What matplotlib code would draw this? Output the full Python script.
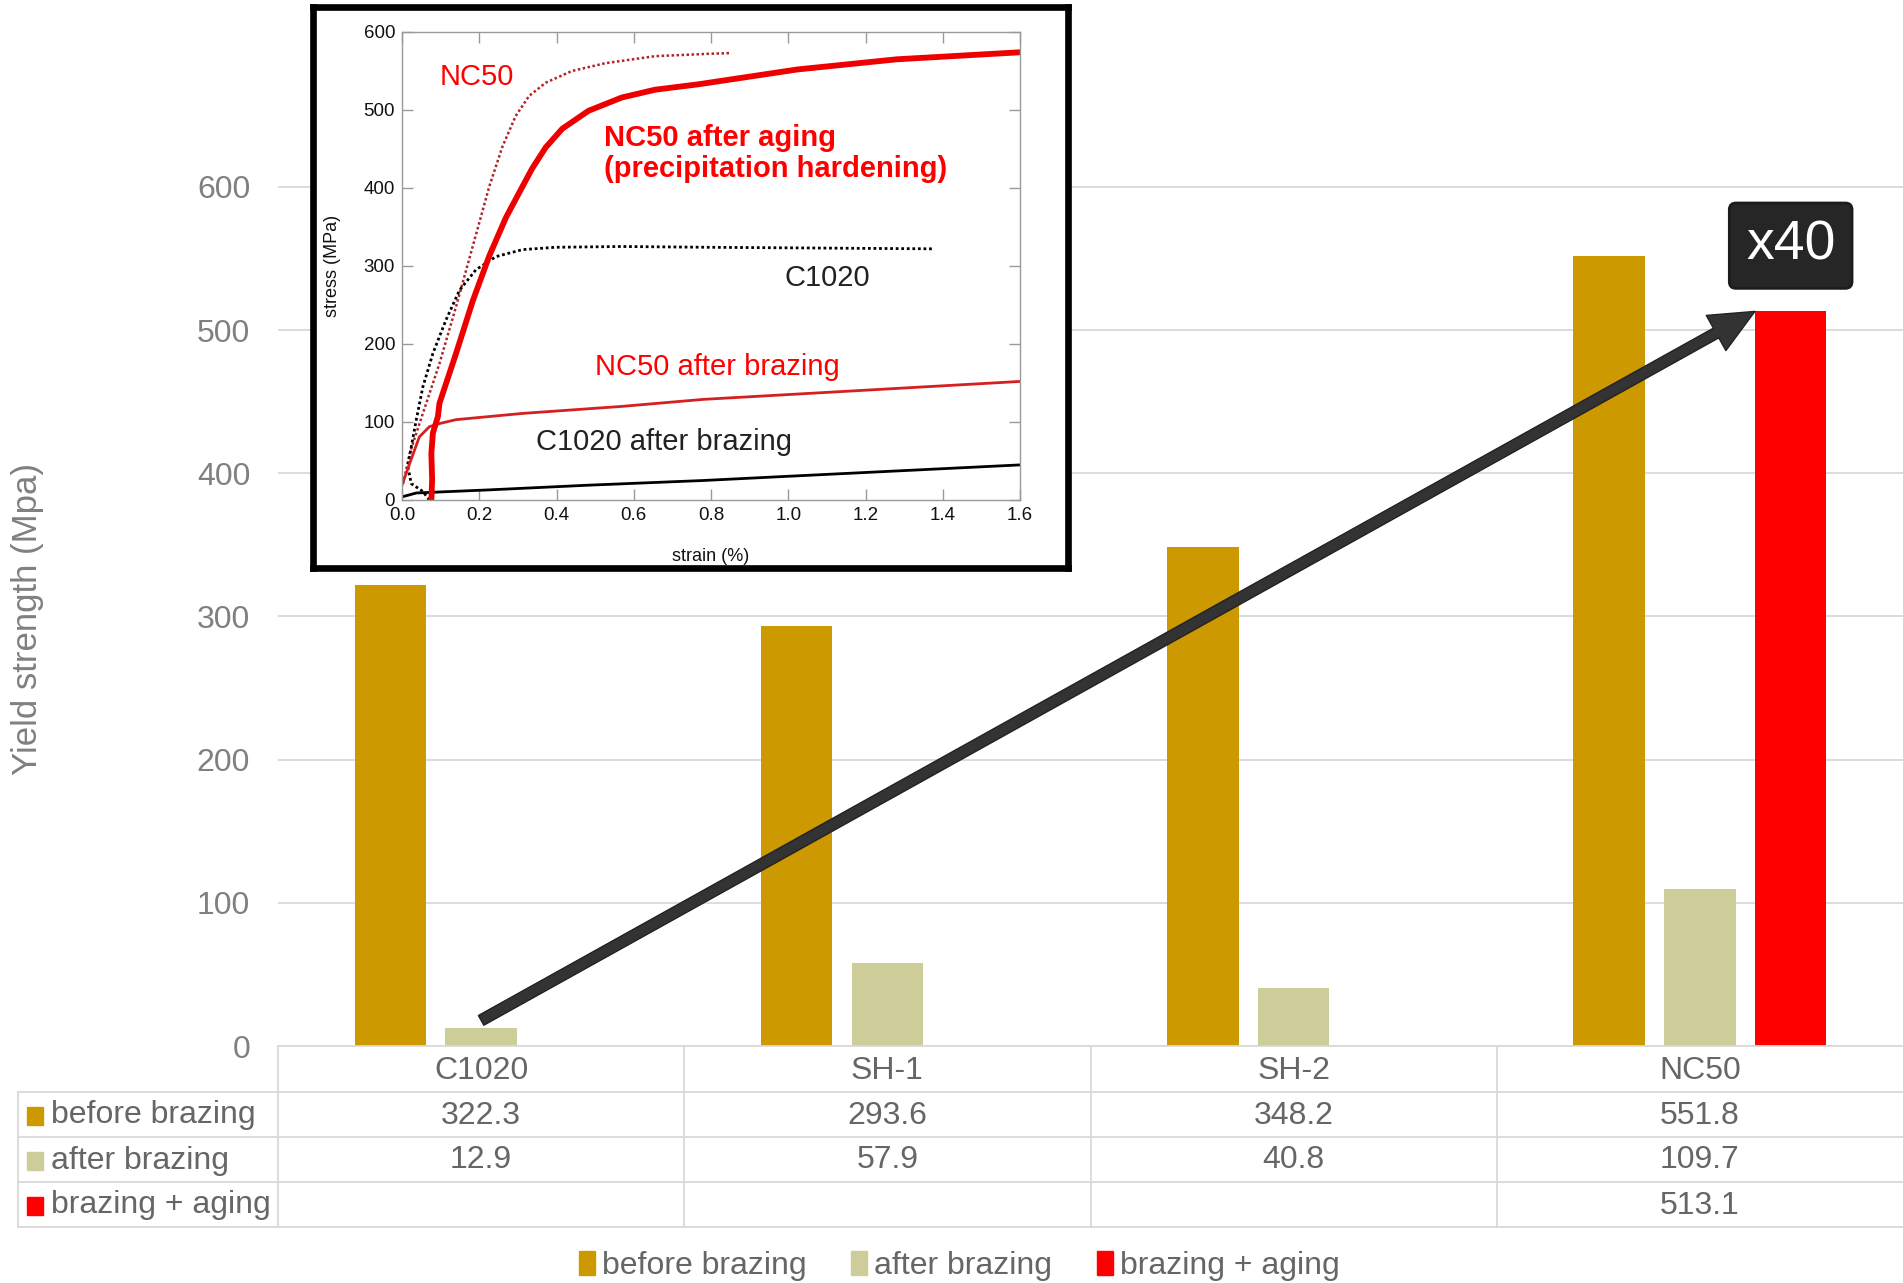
import numpy as np
import matplotlib
matplotlib.use("Agg")
import matplotlib.pyplot as plt
from matplotlib.patches import Rectangle, Patch
from matplotlib.lines import Line2D
from matplotlib.transforms import blended_transform_factory

plt.rcParams['font.family'] = ['Liberation Sans', 'DejaVu Sans']
NARROW = ['Liberation Sans Narrow', 'Liberation Sans', 'DejaVu Sans']

# yield strength per alloy (MPa)
alloys = ['C1020', 'SH-1', 'SH-2', 'NC50']
before_brazing = [322.3, 293.6, 348.2, 551.8]
after_brazing = [12.9, 57.9, 40.8, 109.7]
brazing_aging = [np.nan, np.nan, np.nan, 513.1]
series_names = ['before brazing', 'after brazing', 'brazing + aging']
series_colors = ['#CC9900', '#CDCD9A', '#FF0000']

# stress-strain curves (strain %, stress MPa)
nc50_strain = [0.003, 0.02, 0.054, 0.097, 0.14, 0.183, 0.226, 0.26, 0.294, 0.329, 0.372, 0.44,
               0.526, 0.655, 0.792, 0.852]
nc50_stress = [21, 60, 111, 175, 248, 325, 402, 453, 492, 518, 535, 550, 560, 569, 572, 573]
aged_strain = [0.076, 0.078, 0.076, 0.080, 0.093, 0.097, 0.14, 0.183, 0.226, 0.269, 0.312, 0.337,
               0.372, 0.415, 0.483, 0.569, 0.655, 0.768, 1.024, 1.281, 1.6]
aged_stress = [0, 26, 60, 86, 107, 124, 188, 255, 313, 362, 402, 425,
               452, 476, 499, 516, 526, 533, 552, 565, 574]
c1020_strain = [0.071, 0.054, 0.024, 0.015, 0.024, 0.037, 0.054, 0.08, 0.114, 0.149, 0.191, 0.243,
                0.312, 0.397, 0.569, 0.792, 1.376]
c1020_stress = [0, 11, 21, 43, 68, 103, 145, 188, 231, 269, 295, 312, 321, 324, 325, 324, 322]
nc50_brz_strain = [0.0, 0.02, 0.045, 0.071, 0.097, 0.14, 0.312, 0.569, 0.78, 1.6]
nc50_brz_stress = [19, 47, 81, 94, 98, 103, 111, 120, 129, 152]
c1020_brz_strain = [0.0, 0.037, 0.226, 0.483, 0.78, 0.983, 1.6]
c1020_brz_stress = [4, 9, 13, 19, 25, 30, 45]

W, H = 1903, 1283
def fx(px):
    return px / W
def fy(px):
    return 1 - px / H

fig = plt.figure(figsize=(W / 100, H / 100), dpi=100)
ax = fig.add_axes([fx(278), fy(1046), fx(1903) - fx(278), 1046 / H])

x = np.arange(len(alloys))
w = 0.176
off = 0.2235
ax.bar(x - off, before_brazing, w, color=series_colors[0], zorder=2)
ax.bar(x, after_brazing, w, color=series_colors[1], zorder=2)
aging = np.array(brazing_aging)
has = ~np.isnan(aging)
ax.bar(x[has] + off, aging[has], w, color=series_colors[2], zorder=2)

ax.set_xlim(-0.5, 3.5)
ax.set_ylim(0, 730.6)
ax.set_yticks(range(0, 601, 100))
ax.set_xticks([])
ax.tick_params(axis='y', length=0, pad=20, labelsize=23, labelcolor='#808080')
ax.grid(axis='y', color='#D9D9D9', lw=1.3, zorder=0)
for s in ['left', 'right', 'top']:
    ax.spines[s].set_visible(False)
ax.spines['bottom'].set_color('#D9D9D9')
ax.spines['bottom'].set_linewidth(1.3)

fig.text(fx(28), fy(619), 'Yield strength (Mpa)', rotation=90, fontsize=25,
         color='#808080', ha='center', va='center')

# arrow from C1020 after brazing up to the aged NC50 bar
ax.annotate('', xy=(x[3] + off - w / 2, brazing_aging[3]), xytext=(x[0], after_brazing[0] + 5),
            arrowprops=dict(arrowstyle='simple,head_length=1.6,head_width=1.45,tail_width=0.4',
                            mutation_scale=20, fc='#333333', ec='#222222', lw=1,
                            shrinkA=0, shrinkB=0), zorder=5)
ax.text(x[3] + off, 559, 'x40', color='white', fontsize=40, ha='center', va='center', zorder=6,
        bbox=dict(boxstyle='round,pad=0.3,rounding_size=0.12', fc='#262626', ec='#1c1c1c', lw=2))

# data table below the axis
grid_c = '#D9D9D9'
txt_c = '#666666'
tr = blended_transform_factory(ax.transData, fig.transFigure)
rows_px = [1046, 1092, 1137, 1182, 1227]
for ypx in rows_px[1:]:
    fig.add_artist(Line2D([fx(18), 1.0], [fy(ypx)] * 2, color=grid_c, lw=1.3))
for xv in np.arange(-0.5, 3.0, 1.0):
    fig.add_artist(Line2D([xv, xv], [fy(1046), fy(1227)], transform=tr, color=grid_c, lw=1.3))
fig.add_artist(Line2D([fx(18)] * 2, [fy(1092), fy(1227)], color=grid_c, lw=1.3))

for i, name in enumerate(alloys):
    fig.text(x[i], fy((rows_px[0] + rows_px[1]) / 2 + 2), name, transform=tr,
             ha='center', va='center', fontsize=23, color=txt_c)

table_rows = [before_brazing, after_brazing, brazing_aging]
for r, vals in enumerate(table_rows):
    yc = fy((rows_px[r + 1] + rows_px[r + 2]) / 2 + 1)
    fig.add_artist(Rectangle((fx(27), yc - 9 / H), 16 / W, 18 / H, color=series_colors[r],
                             transform=fig.transFigure))
    fig.text(fx(51), yc, series_names[r], ha='left', va='center', fontsize=23, color=txt_c)
    for i, v in enumerate(vals):
        if not np.isnan(v):
            fig.text(x[i], yc, f'{v:.1f}', transform=tr, ha='center', va='center',
                     fontsize=23, color=txt_c)

handles = [Patch(color=c, label=n) for c, n in zip(series_colors, series_names)]
fig.legend(handles=handles, loc='center', bbox_to_anchor=(0.504, fy(1266)), ncol=3,
           frameon=False, fontsize=23, handlelength=0.5, handleheight=0.8,
           handletextpad=0.22, columnspacing=1.4, labelcolor=txt_c)

# inset: stress-strain curves
frame = fig.add_axes([fx(313), fy(568), fx(1068) - fx(313), (568 - 7) / H], zorder=4)
frame.set_xticks([])
frame.set_yticks([])
for s in frame.spines.values():
    s.set_color('black')
    s.set_linewidth(4.8)

iax = fig.add_axes([fx(402), fy(500), fx(1020) - fx(402), (500 - 32) / H], zorder=5)
iax.plot(nc50_strain, nc50_stress, ls=(0, (1, 1)), color='#B22222', lw=1.8)
iax.plot(c1020_strain, c1020_stress, ls=(0, (1, 1)), color='black', lw=2)
iax.plot(nc50_brz_strain, nc50_brz_stress, color='#D42020', lw=2)
iax.plot(c1020_brz_strain, c1020_brz_stress, color='black', lw=2)
iax.plot(aged_strain, aged_stress, color='#EE0000', lw=4.2, solid_capstyle='round',
         solid_joinstyle='round')

iax.set_xlim(0, 1.6)
iax.set_ylim(0, 600)
iax.set_xticks(np.arange(0, 1.61, 0.2))
iax.set_yticks(range(0, 601, 100))
iax.set_xticklabels([f'{v:.1f}' for v in np.arange(0, 1.61, 0.2)])
iax.tick_params(direction='in', top=True, right=True, length=8, width=1, color='#9a9a9a',
                labelsize=13.5, labelcolor='#111111', pad=5)
for lbl in iax.get_xticklabels() + iax.get_yticklabels():
    lbl.set_family(NARROW)
for s in iax.spines.values():
    s.set_color('#9a9a9a')
    s.set_linewidth(1)
iax.set_xlabel('strain (%)', fontsize=13, family=NARROW, labelpad=17, color='#111111')
iax.set_ylabel('stress (MPa)', fontsize=13, family=NARROW, labelpad=16, color='#111111')

iax.text(0.097, 542, 'NC50', color='#FF0000', fontsize=21, va='center')
iax.text(0.522, 444, 'NC50 after aging\n(precipitation hardening)', color='#FF0000',
         fontsize=21, weight='bold', va='center', linespacing=1.15)
iax.text(0.99, 285, 'C1020', color='#222222', fontsize=21, va='center')
iax.text(0.5, 171, 'NC50 after brazing', color='#FF0000', fontsize=21, va='center')
iax.text(0.346, 75, 'C1020 after brazing', color='#222222', fontsize=21, va='center')

fig.savefig('out.png', dpi=100)
